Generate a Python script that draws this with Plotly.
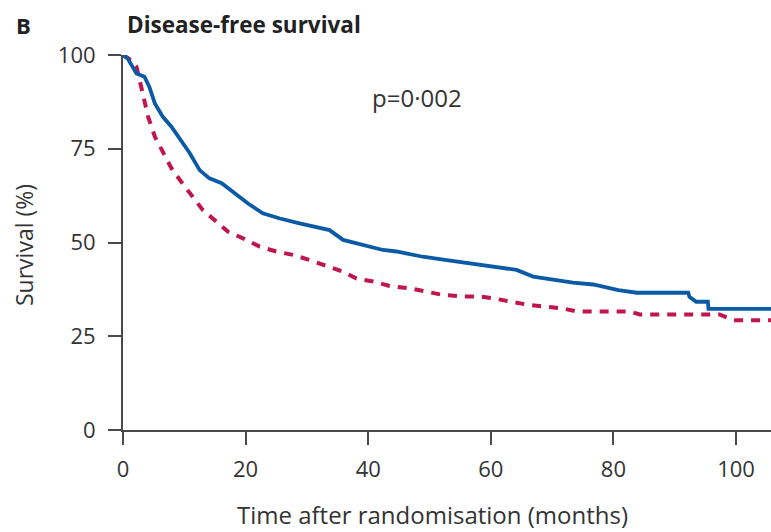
import plotly.graph_objects as go

# Arm A (solid blue) - Kaplan-Meier estimates
months_a = [0, 0.8, 1.4, 2.2, 3.5, 4.3, 5.2, 6.5, 7.9, 9.5, 10.9, 12.5, 14.1, 16.1,
            18.5, 20.4, 22.8, 25.6, 28.8, 31.5, 33.7, 35.9, 39.2, 42.4, 44.6, 48.9,
            52.8, 56.6, 60.9, 64.2, 66.9, 70.7, 73.4, 76.7, 80.8, 83.8, 92.2, 92.4,
            93.5, 95.4, 95.5, 105.7]
surv_a = [100, 99, 97.3, 95.1, 94.2, 91.5, 87.1, 83.5, 80.9, 77.3, 73.8, 69.3, 67.1, 65.8,
          62.7, 60.4, 57.8, 56.4, 55.1, 54.2, 53.3, 50.7, 49.3, 48.0, 47.6, 46.2,
          45.3, 44.4, 43.6, 42.7, 40.9, 40.0, 39.3, 38.8, 37.3, 36.6, 36.6, 35.5,
          34.2, 34.2, 32.3, 32.3]

# Arm B (dashed red)
months_b = [0, 1, 2.2, 3, 4.1, 5.2, 6.8, 7.9, 9.5, 11.2, 13, 15.2, 17.1, 19.6, 22.3, 25,
            27.7, 30.5, 33.7, 35.9, 38.1, 40.8, 43.5, 46.8, 49.5, 52.2, 55.5, 58.2,
            60.4, 63.1, 66.3, 69.1, 71.8, 74, 82.7, 84.3, 97.3, 99.5, 105.7]
surv_b = [100, 99, 96.9, 91.5, 83.5, 78.2, 73.3, 69.8, 66.2, 62.7, 58.7, 55.6, 52.9, 51.1,
          48.9, 47.6, 46.7, 45.3, 43.6, 42.2, 40.4, 39.6, 38.4, 37.8, 36.9, 36.0, 35.6,
          35.6, 35.1, 34.2, 33.3, 32.9, 32.4, 31.6, 31.6, 30.8, 30.8, 29.3, 29.3]

x_ticks = [0, 20, 40, 60, 80, 100]
y_ticks = [0, 25, 50, 75, 100]

font_family = "Open Sans, Noto Sans, sans-serif"
text_color = "#333333"
axis_color = "#4a4a4a"

W, H = 771, 532
l, r, t, b = 123, 0, 55, 102
pw, ph = W - l - r, H - t - b

def px_to_paper(px, py):
    return (px - l) / pw, (H - b - py) / ph

fig = go.Figure()
fig.add_trace(go.Scatter(x=months_b, y=surv_b, mode="lines",
                         line=dict(color="#c0164b", width=4, dash="9px,8px"),
                         cliponaxis=False, showlegend=False))
fig.add_trace(go.Scatter(x=months_a, y=surv_a, mode="lines",
                         line=dict(color="#0b5aa6", width=3.8),
                         cliponaxis=False, showlegend=False))

bx, by = px_to_paper(24, 25)
tx, ty = px_to_paper(125, 25)
pvx, pvy = px_to_paper(417, 97)
xtx, xty = px_to_paper(432, 514)
ytx, yty = px_to_paper(24, 245)

fig.update_layout(
    width=W, height=H,
    margin=dict(l=l, r=r, t=t, b=b),
    plot_bgcolor="white", paper_bgcolor="white",
    font=dict(family=font_family, color=text_color, size=22),
    xaxis=dict(range=[0, 105.7], tickvals=x_ticks, ticks="outside", ticklen=13,
               tickwidth=2, tickcolor=axis_color, showline=True, linecolor=axis_color,
               linewidth=2, showgrid=False, zeroline=False, ticklabelstandoff=6,
               tickfont=dict(size=22, color=text_color)),
    yaxis=dict(range=[0, 100], tickvals=y_ticks, ticks="outside", ticklen=13,
               tickwidth=2, tickcolor=axis_color, showline=True, linecolor=axis_color,
               linewidth=2, showgrid=False, zeroline=False, ticklabelstandoff=8,
               tickfont=dict(size=22, color=text_color)),
    annotations=[
        dict(text="<b>B</b>", x=bx, y=by, xref="paper", yref="paper",
             xanchor="center", yanchor="middle", showarrow=False,
             font=dict(size=22, color="#222222")),
        dict(text="<b>Disease-free survival</b>", x=tx, y=ty, xref="paper", yref="paper",
             xanchor="left", yanchor="middle", showarrow=False,
             font=dict(size=22.5, color="#222222")),
        dict(text="p=0·002", x=pvx, y=pvy, xref="paper", yref="paper",
             xanchor="center", yanchor="middle", showarrow=False,
             font=dict(size=24, color=text_color)),
        dict(text="Time after randomisation (months)", x=xtx, y=xty,
             xref="paper", yref="paper", xanchor="center", yanchor="middle",
             showarrow=False, font=dict(size=24, color=text_color)),
        dict(text="Survival (%)", x=ytx, y=yty, xref="paper", yref="paper",
             xanchor="center", yanchor="middle", textangle=-90,
             showarrow=False, font=dict(size=23, color=text_color)),
    ],
)

fig.write_html("out.html", config={"displayModeBar": False},
               post_script="document.body.style.margin='0';document.body.style.overflow='hidden';")
